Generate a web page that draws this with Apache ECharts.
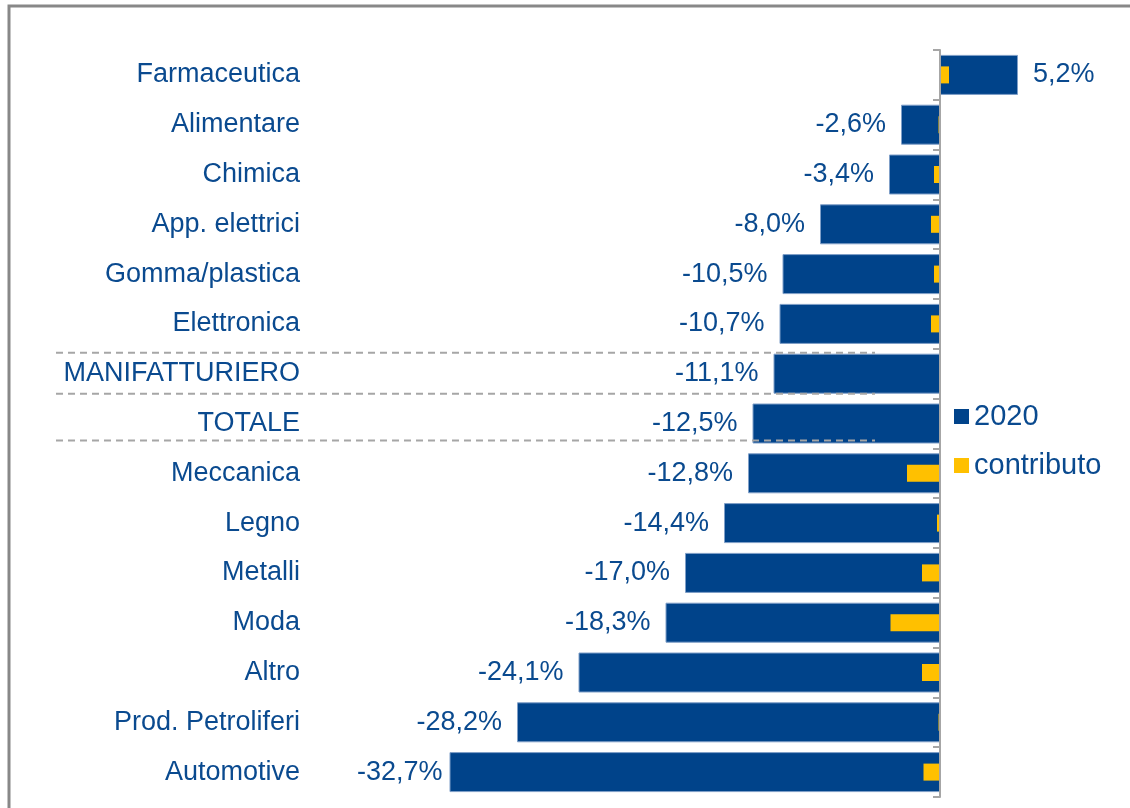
<!DOCTYPE html>
<html>
<head>
<meta charset="utf-8">
<script src="https://cdn.jsdelivr.net/npm/echarts@6/dist/echarts.min.js"></script>
<style>
  html, body { margin: 0; padding: 0; background: #fff; }
  #chart { width: 1130px; height: 808px; }
</style>
</head>
<body>
<div id="chart"></div>
<script>
// Sectors, top to bottom
const categories = [
  'Farmaceutica', 'Alimentare', 'Chimica', 'App. elettrici', 'Gomma/plastica',
  'Elettronica', 'MANIFATTURIERO', 'TOTALE', 'Meccanica', 'Legno',
  'Metalli', 'Moda', 'Altro', 'Prod. Petroliferi', 'Automotive'
];
// 2020 change, %
const values2020 = [5.2, -2.6, -3.4, -8.0, -10.5, -10.7, -11.1, -12.5, -12.8, -14.4, -17.0, -18.3, -24.1, -28.2, -32.7];
// Contribution, % points (none for the two aggregates)
const contributo = [0.6, -0.1, -0.4, -0.6, -0.4, -0.6, null, null, -2.2, -0.2, -1.2, -3.3, -1.2, -0.1, -1.1];

const BLUE = '#00438a';
const YELLOW = '#ffc000';
const TEXT = '#0a4a8f';
const FONT = 'Liberation Sans, Arial, sans-serif';

const fmt = v => v.toFixed(1).replace('.', ',') + '%';

const chart = echarts.init(document.getElementById('chart'));

chart.setOption({
  animation: false,
  textStyle: { fontFamily: FONT },
  grid: { left: 340, right: 40, top: 50, bottom: 11 },
  legend: {
    orient: 'vertical',
    left: 949,
    top: 397,
    itemWidth: 15,
    itemHeight: 15,
    itemGap: 20,
    icon: 'rect',
    itemStyle: { borderWidth: 0 },
    textStyle: { fontSize: 29, color: TEXT, fontFamily: FONT },
    data: ['2020', 'contributo']
  },
  xAxis: {
    type: 'value',
    min: -40,
    max: 10,
    show: false
  },
  yAxis: [
    {
      // zero line with ticks at category boundaries
      type: 'category',
      data: categories,
      inverse: true,
      axisLine: { show: true, onZero: true, lineStyle: { color: '#a6a6a6', width: 2 } },
      axisTick: { show: true, length: 7, lineStyle: { color: '#a6a6a6', width: 2 } },
      axisLabel: { show: false },
      z: 5
    },
    {
      // sector names on the left
      type: 'category',
      data: categories,
      inverse: true,
      position: 'left',
      axisLine: { show: false, onZero: false },
      axisTick: { show: false },
      axisLabel: { margin: 40, fontSize: 27, color: TEXT, fontFamily: FONT }
    }
  ],
  series: [
    {
      name: '2020',
      type: 'bar',
      yAxisIndex: 0,
      barWidth: 40,
      itemStyle: { color: BLUE, borderColor: '#7f9fc8', borderWidth: 1 },
      data: values2020.map((v, i) => ({
        value: v,
        label: {
          position: v >= 0 ? 'right' : 'left',
          // the longest bar leaves little room, so its label sits closer
          distance: i === values2020.length - 1 ? 7 : 15
        }
      })),
      label: {
        show: true,
        fontSize: 27,
        color: TEXT,
        fontFamily: FONT,
        formatter: p => fmt(p.value)
      },
      z: 2
    },
    {
      name: 'contributo',
      type: 'bar',
      yAxisIndex: 1,
      barWidth: 17,
      itemStyle: { color: YELLOW },
      data: contributo,
      z: 3
    }
  ]
});

// Dashed separators around the aggregate rows, plus the frame
function decorate() {
  const yMan = chart.convertToPixel({ yAxisIndex: 0 }, 'MANIFATTURIERO');
  const yTot = chart.convertToPixel({ yAxisIndex: 0 }, 'TOTALE');
  const x0 = chart.convertToPixel({ xAxisIndex: 0 }, 0);
  const xEnd = x0 - 65;
  const dash = {
    stroke: '#a6a6a6',
    lineWidth: 2,
    lineDash: [7, 5]
  };
  const sep = y => ({
    type: 'line',
    shape: { x1: 56, y1: y, x2: xEnd, y2: y },
    style: dash,
    z: 10
  });
  chart.setOption({
    graphic: [
      sep(yMan - 21),
      sep(yMan + 20),
      sep(yTot + 17),
      {
        type: 'polyline',
        shape: { points: [[9, 808], [9, 6], [1130, 6]] },
        style: { stroke: '#888888', lineWidth: 3, fill: null },
        z: 10
      }
    ]
  });
}
decorate();
</script>
</body>
</html>
